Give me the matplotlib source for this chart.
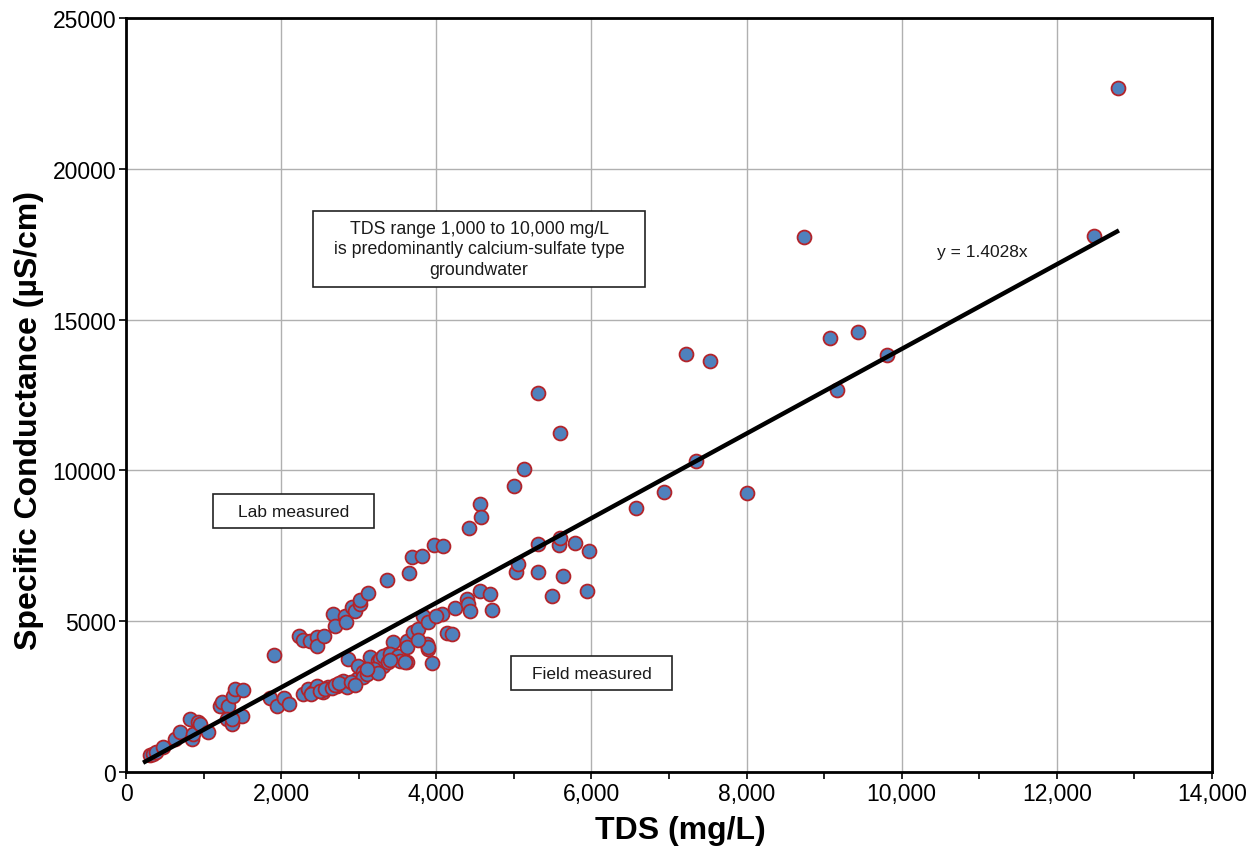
import matplotlib
matplotlib.use("Agg")
import matplotlib.pyplot as plt
import numpy as np
from matplotlib.ticker import MultipleLocator, FuncFormatter
from matplotlib.patches import Rectangle

plt.rcParams['font.family'] = ['Liberation Sans', 'DejaVu Sans']

# TDS (mg/L)
tds = [310, 350, 380, 480, 630, 700, 820, 850, 860, 930, 950, 1060,
       1210, 1240, 1310, 1300, 1370, 1380, 1400, 1510, 1500, 1370,
       1860, 1910, 1950, 2040, 2100,
       2230, 2280, 2370, 2460, 2460, 2550, 2670, 2690, 2820, 2840, 2910, 2950,
       3020, 3020, 3120, 3370, 3650, 3690, 3820, 3970, 4090, 4420, 4560, 4580,
       5000, 5130, 5310, 5600,
       2280, 2350, 2410, 2460, 2540, 2600, 2720, 2800, 2850, 2980, 2860, 2990,
       3060, 3150, 3150, 3250, 3310, 3380, 3440, 3510, 3620, 3620, 3700, 3760,
       3830, 3890, 3880, 3890, 3950, 4070, 4240, 4140, 4200, 3270, 3310, 3400,
       3380, 3510, 3530, 3600, 3620, 3890, 3760, 3990,
       2380, 2500, 2560, 2650, 2700, 2750, 2900, 3050, 3100, 3200, 3250, 3400,
       2950, 3100,
       4400, 4410, 4440, 4560, 4690, 4720,
       5030, 5050, 5310, 5310, 5580, 5600, 5790, 5970, 5630, 5490, 5940,
       6580, 6940, 7350, 8010, 7220, 7530, 8740, 9080, 9440, 9170, 9810,
       12480, 12790]

# Specific conductance (uS/cm)
sc = [560, 600, 650, 830, 1090, 1330, 1760, 1090, 1260, 1660, 1590, 1330,
      2190, 2320, 2190, 1760, 1590, 2520, 2750, 2720, 1860, 1760,
      2470, 3880, 2200, 2440, 2250,
      4510, 4380, 4340, 4480, 4180, 4510, 5240, 4840, 5170, 4970, 5470, 5340,
      5570, 5700, 5930, 6370, 6600, 7130, 7160, 7530, 7490, 8090, 8890, 8450,
      9480, 10050, 12570, 11240,
      2590, 2750, 2650, 2850, 2650, 2820, 2850, 3020, 2820, 3080, 3750, 3510,
      3320, 3510, 3810, 3680, 3510, 3910, 4310, 3810, 3650, 4340, 4640, 4740,
      5170, 4970, 4240, 4080, 3600, 5240, 5440, 4620, 4560, 3750, 3850, 3910,
      3650, 3850, 3680, 3650, 4140, 4140, 4380, 5170,
      2600, 2700, 2750, 2780, 2900, 2950, 3000, 3150, 3250, 3400, 3300, 3700,
      2900, 3400,
      5740, 5570, 5340, 6000, 5900, 5370,
      6630, 6900, 6630, 7560, 7530, 7760, 7590, 7330, 6500, 5840, 6000,
      8750, 9280, 10310, 9250, 13860, 13630, 17740, 14390, 14590, 12670, 13830,
      17770, 22680]

slope = 1.4028
fit_x = [220, 12800]

fig = plt.figure(figsize=(12.59, 8.62), dpi=100)
ax = fig.add_axes([0.1001, 0.1032, 0.8626, 0.8748])

ax.set_xlim(0, 14000)
ax.set_ylim(0, 25000)

ax.scatter(tds, sc, s=100, facecolor='#4F81BD', edgecolor='#B3242A',
           linewidth=1.3, zorder=3)
fx = np.array(fit_x)
ax.plot(fx, slope * fx, color='black', lw=3.2, zorder=4, solid_capstyle='butt')

ax.xaxis.set_major_locator(MultipleLocator(2000))
ax.xaxis.set_minor_locator(MultipleLocator(1000))
ax.yaxis.set_major_locator(MultipleLocator(5000))
ax.xaxis.set_major_formatter(FuncFormatter(lambda v, p: f"{int(v):,}"))
ax.yaxis.set_major_formatter(FuncFormatter(lambda v, p: f"{int(v)}"))

ax.grid(True, which='major', color='#B0B0B0', lw=1.0, zorder=0)
ax.set_axisbelow(True)
for s in ax.spines.values():
    s.set_linewidth(2.0)
    s.set_color('black')

ax.tick_params(axis='both', which='major', direction='out', length=5,
               width=1.2, labelsize=16.5, pad=2)
ax.tick_params(axis='x', which='minor', direction='out', length=5, width=1.2)

ax.set_xlabel('TDS (mg/L)', fontsize=23, fontweight='bold')
ax.set_ylabel('Specific Conductance (µS/cm)', fontsize=23, fontweight='bold')
ax.xaxis.set_label_coords((680 - 126) / 1086.0, (773 - 816) / 754.0)
ax.yaxis.set_label_coords((44 - 126) / 1086.0, (773 - 420) / 754.0)


def px(xp, yp):
    return ((xp - 126) / 1086.0, (773 - yp) / 754.0)


def labbox(p0, p1, text, fs, ls=1.2):
    x0, y1 = px(*p0)
    x1, y0 = px(*p1)
    r = Rectangle((x0, y0), x1 - x0, y1 - y0, transform=ax.transAxes,
                  facecolor='white', edgecolor='#222222', lw=1.2, zorder=5)
    ax.add_patch(r)
    ax.text((x0 + x1) / 2, (y0 + y1) / 2, text, transform=ax.transAxes,
            ha='center', va='center', fontsize=fs, color='#1a1a1a', zorder=6,
            linespacing=ls)


labbox((213, 495), (374, 529), 'Lab measured', 12.5)
labbox((511, 657), (672, 691), 'Field measured', 12.5)
labbox((313, 212), (645, 288),
       'TDS range 1,000 to 10,000 mg/L\nis predominantly calcium-sulfate type\ngroundwater',
       12.8, 1.3)

tx, ty = px(982, 253)
ax.text(tx, ty, 'y = 1.4028x', transform=ax.transAxes, ha='center', va='center',
        fontsize=12.5, color='#1a1a1a', zorder=6)

fig.savefig('out.png', dpi=100)
